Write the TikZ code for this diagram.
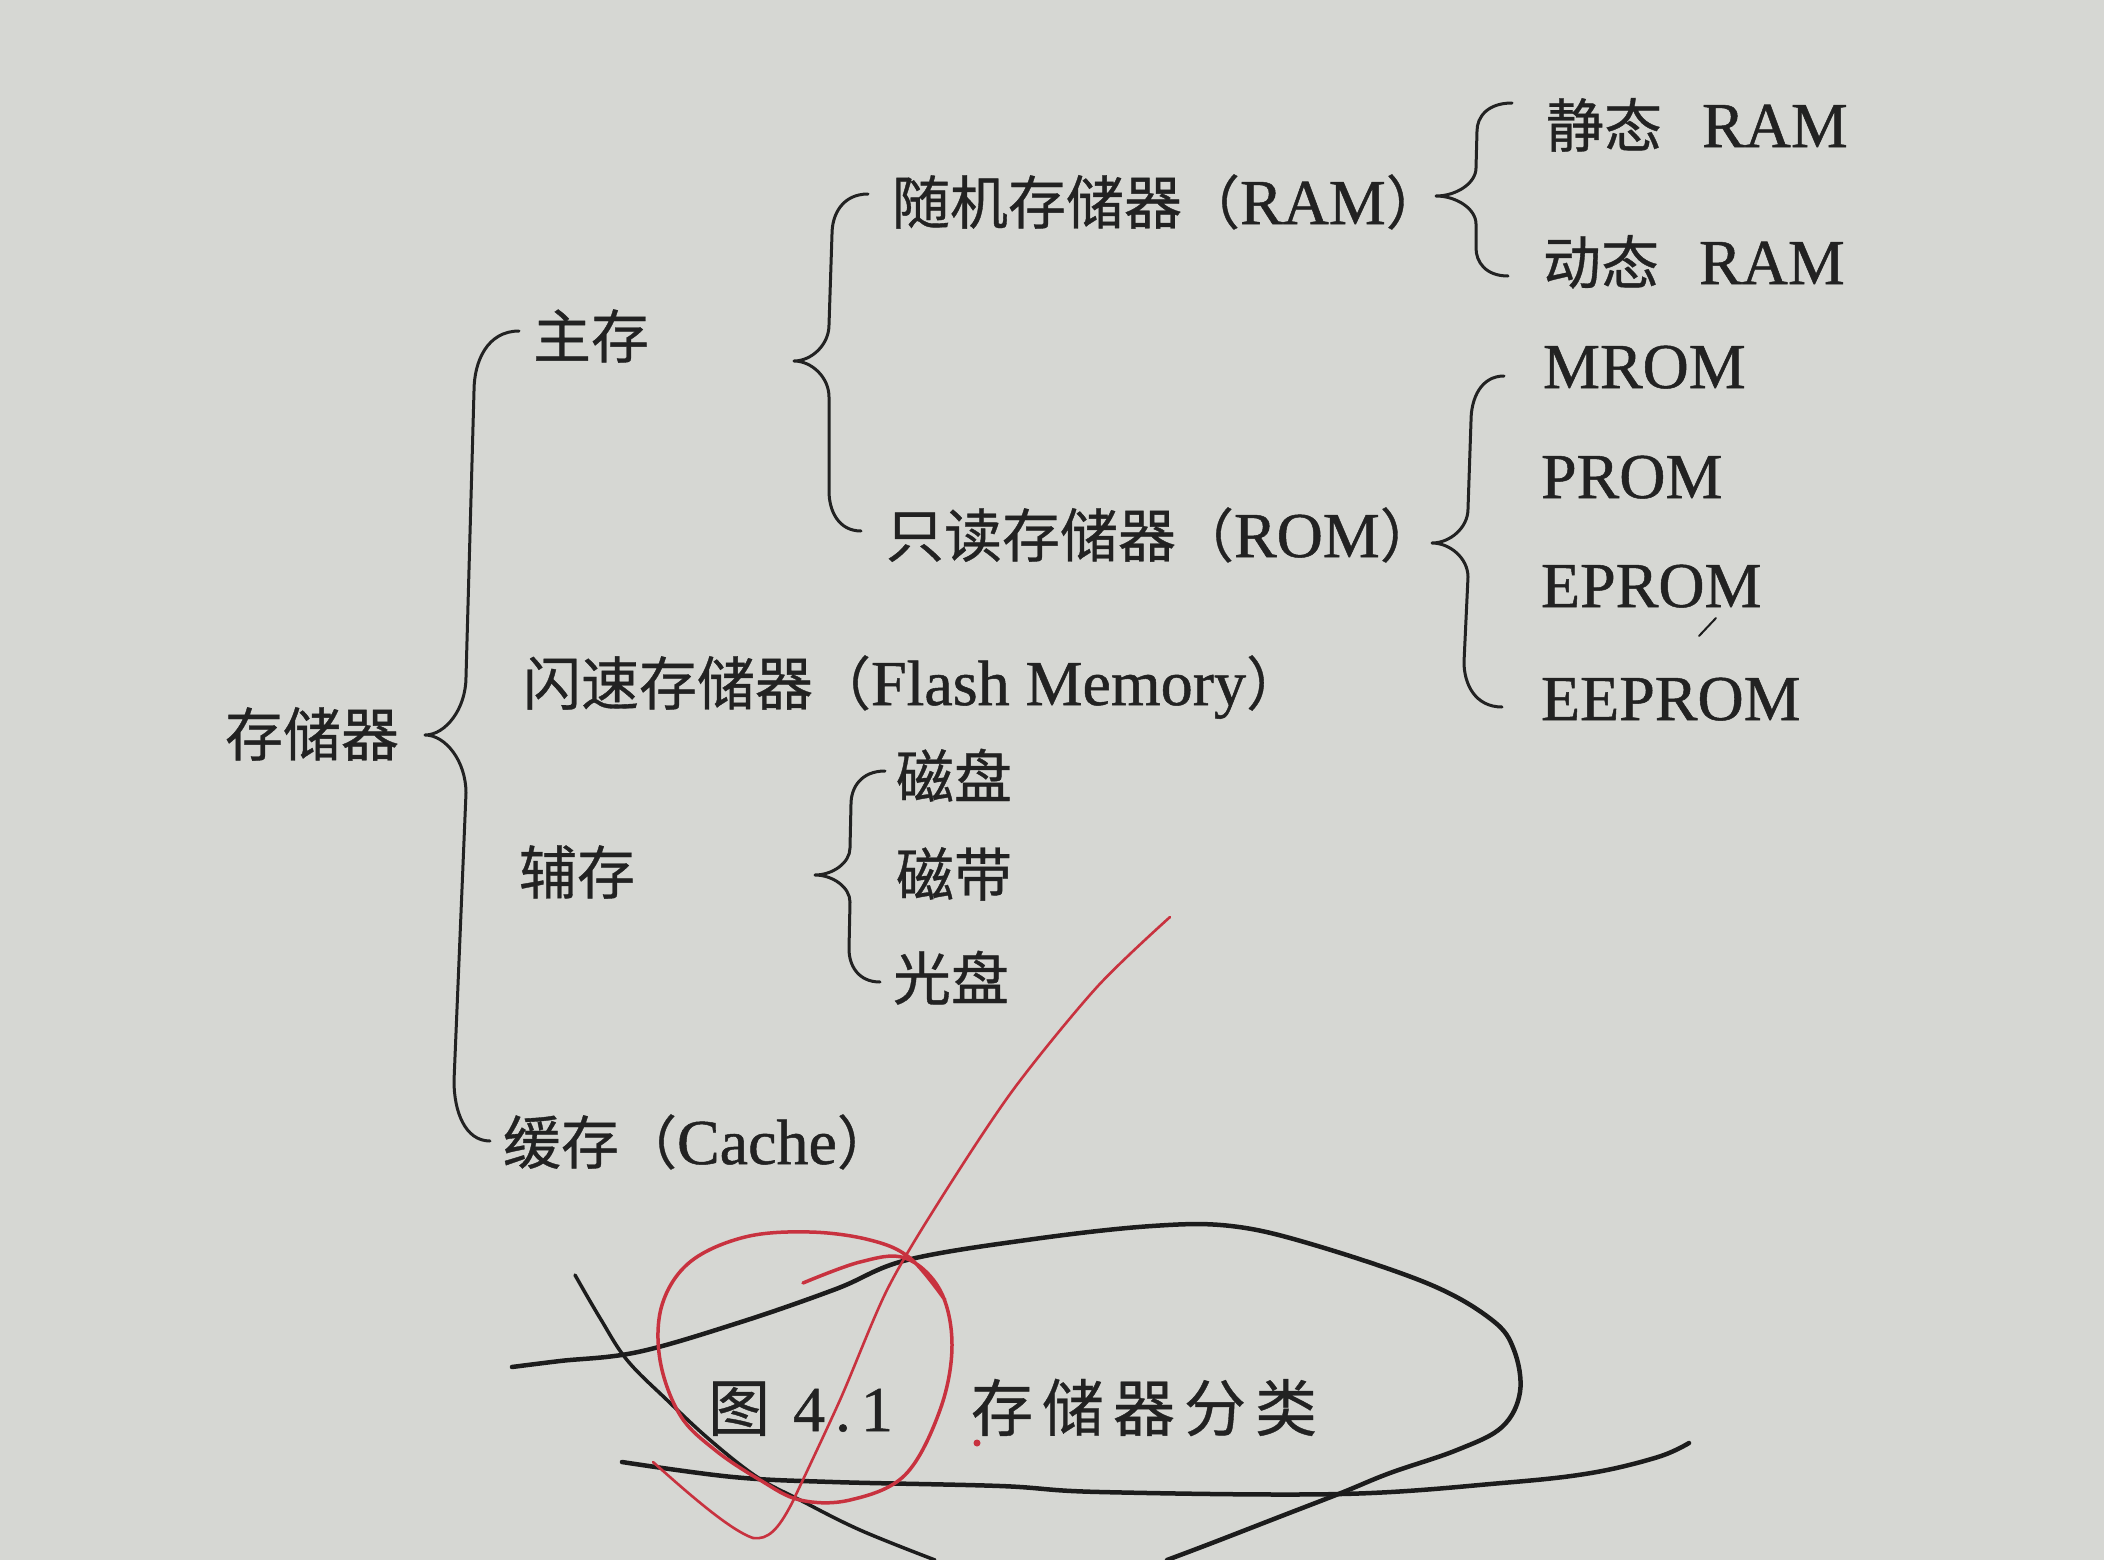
\documentclass[tikz,border=0pt]{standalone}
\usepackage{fontspec}
\setmainfont{Liberation Serif}[FakeBold=0.8]
\newfontfamily\cjk{Noto Sans CJK SC}[FakeBold=0.6]
\usetikzlibrary{calc}
\definecolor{paper}{HTML}{D6D7D3}
\definecolor{ink}{HTML}{222222}
\definecolor{pen}{HTML}{1C1C1C}
\definecolor{redpen}{HTML}{C8323F}
\newcommand\zh[1]{{\cjk\fontsize{58}{70}\selectfont #1}}
\newcommand\zhcap[1]{{\cjk\fontsize{62}{70}\selectfont #1}}
% brace: #1 top end, #2 bottom end, #3 tip, #4/#5/#6 line offset from tip (top/mid/bottom), #7 end curl, #8 tip curl
\newcommand\mybrace[8]{%
  \draw[bracestyle] let \p1=(#1), \p2=(#2), \p3=(#3) in
  (\p1) .. controls ({\x3+#4+0.3*(\x1-\x3-#4)},{\y1}) and ({\x3+#4},{\y1-0.5*#7}) .. ({\x3+#4},{\y1-#7})
  -- ({\x3+#5},{\y3+#8})
  .. controls ({\x3+#5},{\y3+0.45*#8}) and ({\x3+0.5*#5},{\y3}) .. (\p3)
  .. controls ({\x3+0.5*#5},{\y3}) and ({\x3+#5},{\y3-0.45*#8}) .. ({\x3+#5},{\y3-#8})
  -- ({\x3+#6},{\y2+#7})
  .. controls ({\x3+#6},{\y2+0.5*#7}) and ({\x3+#6+0.3*(\x2-\x3-#6)},{\y2}) .. (\p2);}
\tikzset{
  lbl/.style={anchor=west, inner sep=0pt, outer sep=0pt, text height=40pt, text depth=0pt,
    font=\fontsize{64}{70}\selectfont, text=ink},
  bracestyle/.style={draw=ink, line width=3pt, line cap=round, line join=round},
  blackpen/.style={draw=pen, line width=4.5pt, line cap=round, line join=round},
  redpenst/.style={draw=redpen, line width=3.5pt, line cap=round, line join=round},
}
\begin{document}
\begin{tikzpicture}[x=1pt,y=-1pt]
\fill[paper] (0,0) rectangle (2104,1560);
\useasboundingbox (0,0) rectangle (2104,1560);

% ---- text nodes ----
\node[lbl] (root) at (225,736) {\zh{存储器}};
\node[lbl] (zhucun) at (533,338) {\zh{主存}};
\node[lbl] (ram) at (892,204) {\zh{随机存储器（}RAM\zh{）}};
\node[lbl] (sram) at (1546,127) {\zh{静态}\hspace{40pt}RAM};
\node[lbl] (dram) at (1543,264) {\zh{动态}\hspace{40pt}RAM};
\node[lbl] (rom) at (886,537) {\zh{只读存储器（}ROM\zh{）}};
\node[lbl] (mrom) at (1543,368) {MROM};
\node[lbl] (prom) at (1541,478) {PROM};
\node[lbl] (eprom) at (1541,587) {EPROM};
\node[lbl] (eeprom) at (1541,700) {EEPROM};
\node[lbl] (flash) at (523,685) {\zh{闪速存储器（}Flash Memory\zh{）}};
\node[lbl] (fucun) at (519,874) {\zh{辅存}};
\node[lbl] (cipan) at (896,778) {\zh{磁盘}};
\node[lbl] (cidai) at (896,876) {\zh{磁带}};
\node[lbl] (guangpan) at (893,980) {\zh{光盘}};
\node[lbl] (cache) at (503,1144) {\zh{缓存（}Cache\zh{）}};
\node[lbl] (capfig) at (708,1411) {\zhcap{图}};
\node[lbl] (capnum) at (793,1411) {4\hspace{10pt}.\hspace{10pt}1};
\node[lbl] (captitle) at (971,1411) {\zhcap{存\hspace{9pt}储\hspace{9pt}器\hspace{9pt}分\hspace{9pt}类}};

% ---- brace points ----
\coordinate (b1t) at (519,331);  \coordinate (b1b) at (490,1141); \coordinate (b1x) at (425,735);
\coordinate (b2t) at (868,194);  \coordinate (b2b) at (861,531);  \coordinate (b2x) at (794,361);
\coordinate (b3t) at (1512,103); \coordinate (b3b) at (1508,276); \coordinate (b3x) at (1436,196);
\coordinate (b4t) at (1504,376); \coordinate (b4b) at (1502,707); \coordinate (b4x) at (1432,543);
\coordinate (b5t) at (885,771);  \coordinate (b5b) at (880,982);  \coordinate (b5x) at (815,875);

\mybrace{b1t}{b1b}{b1x}{49pt}{41pt}{29pt}{60pt}{58pt}
\mybrace{b2t}{b2b}{b2x}{38pt}{35pt}{35pt}{40pt}{36pt}
\mybrace{b3t}{b3b}{b3x}{41pt}{40pt}{40pt}{28pt}{28pt}
\mybrace{b4t}{b4b}{b4x}{39pt}{36pt}{32pt}{45pt}{34pt}
\mybrace{b5t}{b5b}{b5x}{36pt}{35pt}{34pt}{33pt}{27pt}

% ---- pen marks ----
\draw[pen, line width=2pt, line cap=round] (1699,636) -- (1716,618);
\draw[blackpen] plot[smooth, tension=0.6] coordinates {(512,1367) (560,1361) (638,1352) (741,1322) (836,1289) (907,1260) (1034,1239) (1152,1226) (1231,1226) (1311,1244) (1429,1284) (1492,1320) (1514,1350) (1520,1392) (1502,1427) (1457,1450) (1390,1473) (1341,1493) (1279,1517) (1212,1543) (1167,1560)};
\draw[blackpen, line width=3.5pt] plot[smooth, tension=0.6] coordinates {(575,1275) (600,1318) (627,1360) (667,1400) (710,1440) (757,1477) (800,1500) (860,1530) (935,1560)};
\draw[blackpen] plot[smooth, tension=0.6] coordinates {(622,1462) (733,1477) (833,1482) (1000,1486) (1100,1492) (1341,1494) (1502,1483) (1591,1473) (1658,1457) (1689,1443)};
\draw[redpenst, line width=2.6pt] plot[smooth, tension=0.5] coordinates {(1170,917) (1097,987) (1013,1090) (940,1200) (887,1290) (840,1400) (792,1503)} .. controls (778,1530) and (768,1540) .. (753,1538) .. controls (730,1530) and (690,1495) .. (653,1462);
\draw[redpenst] plot[smooth, tension=0.6] coordinates {(803,1283) (860,1262) (905,1258) (940,1290) (952,1345) (940,1410) (905,1475) (850,1500) (800,1500) (760,1480) (715,1450) (680,1415) (660,1360) (662,1305) (690,1262) (745,1237) (810,1232) (870,1240) (910,1258) (945,1300)};
\fill[redpen] (977,1443) circle (3.5pt);
\end{tikzpicture}
\end{document}
